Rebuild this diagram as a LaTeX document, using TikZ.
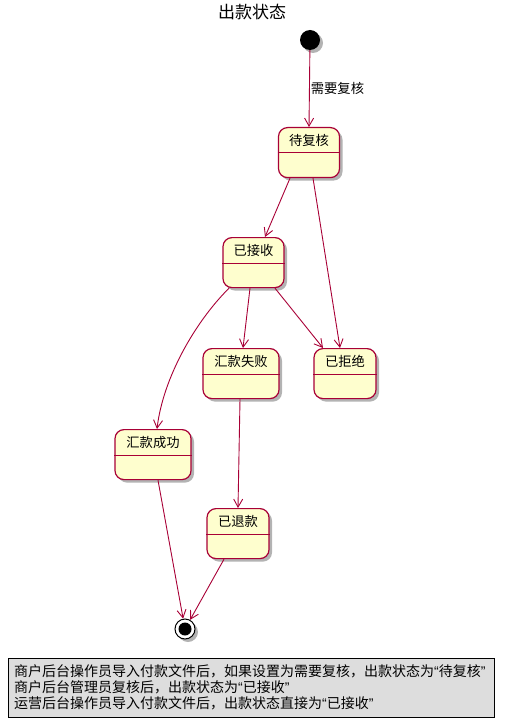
\documentclass[tikz,border=0pt]{standalone}
\usepackage{fontspec}
\setmainfont{Noto Sans CJK SC}
\newfontfamily\qf{Liberation Sans}
\usetikzlibrary{arrows.meta,shadows}
\definecolor{pubord}{HTML}{A80036}
\definecolor{puyel}{HTML}{FEFECE}
\definecolor{notegray}{HTML}{DDDDDD}
\newcommand\myLq{{\qf “}}
\newcommand\myRq{{\qf ”}}
\tikzset{
  sh/.style={drop shadow={shadow xshift=3pt,shadow yshift=-3pt,fill=black!50,opacity=.6}},
  st/.style={draw=pubord,fill=puyel,line width=1.2pt,rounded corners=9pt,minimum height=50pt,inner sep=0pt,sh},
  lbl/.style={font=\fontsize{13.3}{15}\selectfont,text=black,inner sep=0pt},
  arr/.style={draw=pubord,line width=0.9pt,-{Straight Barb[length=8pt,width=9pt]}},
  div/.style={draw=pubord,line width=1pt}
}
\newcommand\mystate[5]{%
  \node[st,minimum width=#4pt,anchor=north] (#1) at (#2,#3) {};
  \draw[div] ([yshift=-26pt]#1.north west) -- ([yshift=-26pt]#1.north east);
  \node[lbl] (#1t) at ([yshift=-13.5pt]#1.north) {#5};
}
\begin{document}
\begin{tikzpicture}[x=1pt,y=-1pt]
\useasboundingbox (0,0) rectangle (505,727);
\node[font=\fontsize{17}{20}\selectfont] (title) at (252,12) {出款状态};
\node[circle,fill=black,minimum size=20pt,inner sep=0pt,sh] (start) at (310,40) {};
\mystate{dfh}{309}{127}{61}{待复核}
\mystate{yjs}{253.5}{237}{61}{已接收}
\mystate{hksb}{241}{348}{76}{汇款失败}
\mystate{yjj}{345}{348}{62}{已拒绝}
\mystate{hkcg}{153}{429}{76}{汇款成功}
\mystate{ytk}{238}{508}{62}{已退款}
\node[circle,draw=black,fill=white,line width=1pt,minimum size=20pt,inner sep=0pt,sh] (stop) at (185,629) {};
\node[circle,fill=black,minimum size=13pt,inner sep=0pt] (stopin) at (stop) {};
\draw[arr] (start) -- node[right,lbl,xshift=1pt] (lab) {需要复核} (dfh.north);
\draw[arr] ([xshift=-19pt]dfh.south) -- ([xshift=11.5pt]yjs.north);
\draw[arr] ([xshift=4pt]dfh.south) -- ([xshift=-5pt]yjj.north);
\draw[arr] ([xshift=-24.5pt]yjs.south) .. controls (195,322) and (163,378) .. ([xshift=4pt]hkcg.north);
\draw[arr] ([xshift=-3.5pt]yjs.south) -- ([xshift=2pt]hksb.north);
\draw[arr] ([xshift=21.5pt]yjs.south) -- ([xshift=-22pt]yjj.north);
\draw[arr] ([xshift=-1pt]hksb.south) -- (ytk.north);
\draw[arr] ([xshift=5pt]hkcg.south) -- (stop);
\draw[arr] ([xshift=-14pt]ytk.south) -- (stop);
\node[draw=black,fill=notegray,line width=1pt,minimum width=486pt,minimum height=59pt,anchor=north west,inner sep=0pt] (note) at (8,658) {};
\node[anchor=west,inner sep=0pt,align=left,font=\fontsize{14}{15.8}\selectfont] (notetext) at (14,687.5)
 {商户后台操作员导入付款文件后，如果设置为需要复核，出款状态为\myLq 待复核\myRq\\
  商户后台管理员复核后，出款状态为\myLq 已接收\myRq\\
  运营后台操作员导入付款文件后，出款状态直接为\myLq 已接收\myRq};
\end{tikzpicture}
\end{document}
